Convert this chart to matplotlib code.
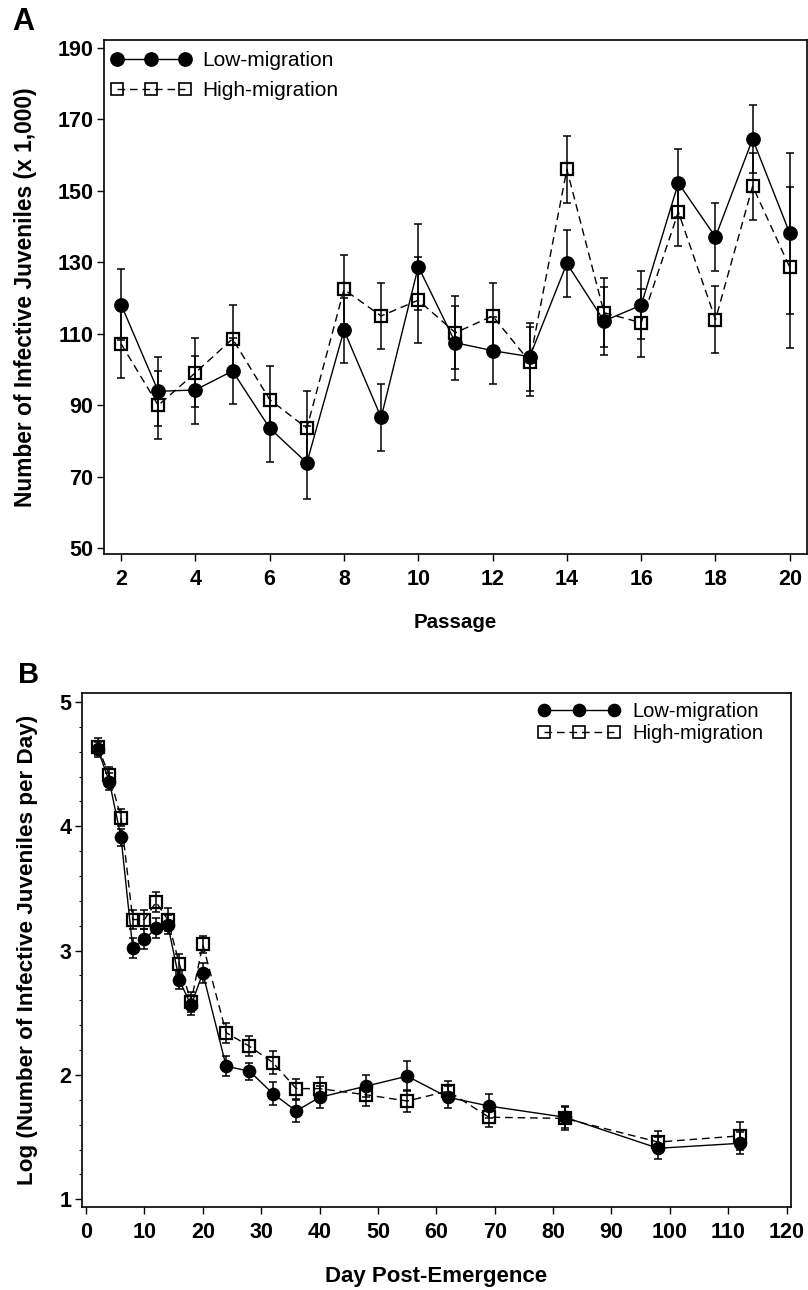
import matplotlib
matplotlib.use("Agg")
import matplotlib.pyplot as plt
from matplotlib.lines import Line2D

plt.rcParams["font.family"] = ["Liberation Sans", "DejaVu Sans"]

# Panel A: infective juveniles per passage (x 1,000), mean +/- SE
passage = [2, 3, 4, 5, 6, 7, 8, 9, 10, 11, 12, 13, 14, 15, 16, 17, 18, 19, 20]
low_a = [118.2, 93.9, 94.3, 99.6, 83.6, 73.9, 111.0, 86.6, 128.8, 107.5,
         105.3, 103.6, 129.7, 113.6, 118.0, 152.2, 137.1, 164.5, 138.1]
low_a_err = [9.8, 9.6, 9.5, 9.3, 9.6, 10.2, 9.1, 9.3, 12.0, 10.3,
             9.4, 9.5, 9.4, 9.4, 9.5, 9.6, 9.6, 9.5, 22.5]
high_a = [107.2, 90.0, 99.1, 108.6, 91.6, 83.6, 122.4, 115.0, 119.4, 110.3,
          115.0, 102.2, 156.0, 115.9, 113.1, 144.1, 114.0, 151.3, 128.6]
high_a_err = [9.5, 9.5, 9.6, 9.5, 9.4, 10.4, 9.6, 9.3, 12.1, 10.2,
              9.3, 9.6, 9.4, 9.6, 9.5, 9.5, 9.5, 9.4, 22.6]

# Panel B: log daily emergence by day post-emergence
day = [2, 4, 6, 8, 10, 12, 14, 16, 18, 20, 24, 28, 32, 36, 40, 48, 55, 62, 69, 82, 98, 112]
low_b = [4.62, 4.36, 3.91, 3.02, 3.09, 3.18, 3.21, 2.76, 2.56, 2.82, 2.07,
         2.03, 1.85, 1.71, 1.82, 1.91, 1.99, 1.82, 1.75, 1.66, 1.41, 1.45]
low_b_err = [0.06, 0.07, 0.07, 0.08, 0.08, 0.08, 0.08, 0.07, 0.08, 0.08, 0.08,
             0.07, 0.09, 0.09, 0.09, 0.09, 0.12, 0.09, 0.10, 0.09, 0.09, 0.09]
high_b = [4.64, 4.41, 4.07, 3.25, 3.25, 3.39, 3.25, 2.89, 2.59, 3.05, 2.34,
          2.23, 2.10, 1.89, 1.89, 1.84, 1.79, 1.87, 1.66, 1.65, 1.46, 1.51]
high_b_err = [0.07, 0.07, 0.07, 0.08, 0.08, 0.08, 0.09, 0.08, 0.08, 0.07, 0.08,
              0.08, 0.09, 0.08, 0.09, 0.09, 0.09, 0.08, 0.08, 0.09, 0.09, 0.11]

LABEL_LOW = "Low-migration"
LABEL_HIGH = "High-migration"

W, H = 808, 1290
fig = plt.figure(figsize=(W / 100, H / 100), dpi=100)


def px_axes(left, top, right, bottom):
    return fig.add_axes([left / W, 1 - bottom / H, (right - left) / W, (bottom - top) / H])


ax_a = px_axes(104, 40, 806.5, 554)
ax_b = px_axes(81.7, 693.3, 790.7, 1206.7)

DASH = (5.5, 3.5)


def draw_series(ax, x, low, low_err, high, high_err, ms_c, ms_s):
    ax.errorbar(x, high, yerr=high_err, fmt="none", ecolor="black",
                elinewidth=1.1, capsize=2.6, capthick=1.1, zorder=2)
    ax.errorbar(x, low, yerr=low_err, fmt="none", ecolor="black",
                elinewidth=1.1, capsize=2.6, capthick=1.1, zorder=2)
    ax.plot(x, high, color="black", linewidth=1.0, dashes=DASH, marker="s",
            markersize=ms_s, markerfacecolor="none", markeredgecolor="black",
            markeredgewidth=1.6, zorder=3)
    ax.plot(x, low, color="black", linewidth=1.0, marker="o",
            markersize=ms_c, markerfacecolor="black", markeredgecolor="black",
            zorder=4)


def legend_handles(ms_c, ms_s):
    h_low = Line2D([], [], color="black", linewidth=1.0, marker="o",
                   markersize=ms_c, markerfacecolor="black")
    h_high = Line2D([], [], color="black", linewidth=1.0, dashes=DASH, marker="s",
                    markersize=ms_s, markerfacecolor="none", markeredgewidth=1.2)
    return [h_low, h_high]


def style_axes(ax):
    for spine in ax.spines.values():
        spine.set_linewidth(1.2)
    ax.tick_params(axis="both", which="major", direction="out", length=5,
                   width=1.0, labelsize=15.5, pad=2.5)
    ax.tick_params(axis="x", which="major", pad=6)
    for lab in ax.get_xticklabels() + ax.get_yticklabels():
        lab.set_fontweight("bold")


# ---- Panel A
draw_series(ax_a, passage, low_a, low_a_err, high_a, high_a_err, 9.6, 8.6)
ax_a.set_xlim(1.54, 20.45)
ax_a.set_ylim(48.4, 192.2)
ax_a.set_xticks(range(2, 21, 2))
ax_a.set_yticks(range(50, 191, 20))
style_axes(ax_a)
ax_a.set_xlabel("Passage", fontsize=14.8, fontweight="bold")
ax_a.xaxis.set_label_coords(0.5, -0.115)
ax_a.set_ylabel("Number of Infective Juveniles (x 1,000)", fontsize=16.4,
                fontweight="bold")
ax_a.yaxis.set_label_coords(-0.0955, 0.5)
ax_a.legend(legend_handles(9.6, 9.0), [LABEL_LOW, LABEL_HIGH], loc="upper left",
            bbox_to_anchor=(0.0, 0.99), frameon=False, numpoints=3,
            handlelength=3.9, handletextpad=0.5, labelspacing=0.5,
            borderpad=0.0, borderaxespad=0.3, fontsize=15)

# ---- Panel B
draw_series(ax_b, day, low_b, low_b_err, high_b, high_b_err, 8.8, 8.3)
ax_b.set_xlim(-0.74, 120.7)
ax_b.set_ylim(0.94, 5.07)
ax_b.set_xticks(range(0, 121, 10))
ax_b.set_yticks([1, 2, 3, 4, 5])
ax_b.set_yticks([1.2, 1.4, 1.6, 1.8, 2.2, 2.4, 2.6, 2.8, 3.2, 3.4, 3.6, 3.8,
                 4.2, 4.4, 4.6, 4.8], minor=True)
style_axes(ax_b)
ax_b.tick_params(axis="y", which="minor", direction="out", length=2.5, width=0.8)
ax_b.set_xlabel("Day Post-Emergence", fontsize=16, fontweight="bold")
ax_b.xaxis.set_label_coords(0.5, -0.115)
ax_b.set_ylabel("Log (Number of Infective Juveniles per Day)", fontsize=16.2,
                fontweight="bold")
ax_b.yaxis.set_label_coords(-0.061, 0.5)
ax_b.legend(legend_handles(8.8, 8.5), [LABEL_LOW, LABEL_HIGH], loc="upper right",
            bbox_to_anchor=(0.97, 0.995), frameon=False, numpoints=3,
            handlelength=4.1, handletextpad=0.6, labelspacing=0.15,
            borderpad=0.0, borderaxespad=0.3, fontsize=14.5)

fig.text(12 / W, 1 - 30 / H, "A", fontsize=22, fontweight="bold", ha="left", va="baseline")
fig.text(18 / W, 1 - 683 / H, "B", fontsize=21, fontweight="bold", ha="left", va="baseline")

fig.savefig("out.png", dpi=100)
plt.close(fig)
